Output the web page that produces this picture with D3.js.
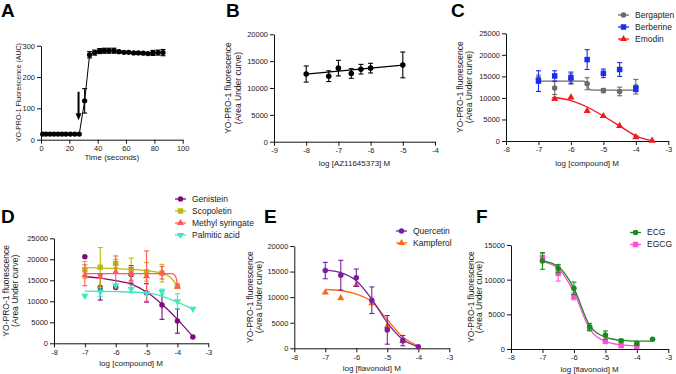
<!DOCTYPE html>
<html>
<head>
<meta charset="utf-8">
<script src="https://cdn.jsdelivr.net/npm/d3@7"></script>
<style>
body { margin: 0; background: #fff; }
svg { font-family: "Liberation Sans", Arial, sans-serif; }
.axis path, .axis line { stroke: #111; stroke-width: 1; }
.axis text { font-family: "Liberation Sans", Arial, sans-serif; font-size: 7.5px; fill: #222; }
</style>
</head>
<body>
<svg id="fig" width="676" height="374"></svg>
<script>
// ---- A: time course ----
var timeA = [1.2,3.5,6.4,9.2,12,14.8,17.6,20.7,23.8,27,30.8,34.3,37.9,41.4,44.7,48,51.5,55,58.6,61.9,65.4,68.7,72.2,75.5,79,82.6,86.1];
var aucA = [18,18,18,18,18,18,18,18,18,18,124,271,278,283,284,284,284,281,279,279,277,277,276,275,277,278,278];
var aucAErr = [0,0,0,0,0,0,0,0,0,0,39,10,8,8,8,8,8,4,3,3,3,3,3,3,8,8,10];
var arrowTime = 26.5, arrowTop = 153, arrowTip = 62;

// ---- B: AZ11645373 ----
var logAZ = [-8,-7.3,-7,-6.6,-6.3,-6,-5];
var aucB = [12600,12200,13700,12700,13500,13700,14300];
var aucBErr = [1500,1000,1450,900,900,900,2400];
var fitBX = [-8,-5];
var fitBY = [12600,14250];

// ---- C ----
var logC = [-7,-6.5,-6,-5.5,-5,-4.5,-4];
var bergapten = [14500,12300,14400,13300,11700,11500,12600];
var bergaptenErr = [800,1500,1200,1400,500,1000,1700];
var bergaptenFitX = [-7,-6,-5.6,-5.5,-5.45,-5.4,-5,-4];
var bergaptenFitY = [13900,13900,13880,13200,12200,11850,11800,11800];
var berberine = [13900,15100,14700,18900,15700,16600,12100];
var berberineErr = [2400,1200,1300,2300,1000,1600,650];
var logEmodin = [-6.5,-6,-5.5,-5,-4.5,-4,-3.5];
var emodin = [9800,10100,7000,5800,3500,900,100];
var emodinErr = [300,0,0,0,0,300,0];
var emodinFitX = [-6.5,-6,-5.5,-5,-4.5,-4,-3.5];
var emodinFitY = [10100,9400,7900,5800,3500,1200,50];

// ---- D ----
var logD = [-7,-6.5,-6,-5.5,-5,-4.5,-4,-3.5];
var logD7 = [-7,-6.5,-6,-5.5,-5,-4.5,-4];
var genistein = [20600,13300,13300,16400,12000,9100,5300,1500];
var genisteinErr = [0,3000,0,2100,2200,3400,2900,0];
var genisteinFitX = [-7,-6.5,-6,-5.5,-5,-4.5,-4,-3.5];
var genisteinFitY = [15900,15500,14900,14100,12200,9300,5700,1600];
var scopoletin = [17500,18100,19000,17500,17000,16700,13600];
var scopoletinErr = [2000,4700,1000,2800,2200,2100,500];
var scopoletinFitX = [-7,-6,-5,-4.5,-4.2,-4];
var scopoletinFitY = [18000,17800,17300,16700,15500,13600];
var methyl = [16200,15800,17000,16500,16000,16800,13500];
var methylErr = [2500,0,3800,1500,6000,1500,0];
var methylFitX = [-7,-5,-4.2,-4.1,-4.03,-4];
var methylFitY = [16600,16600,16600,16300,15200,13600];
var palmitic = [11300,12200,13800,12900,11900,12300,10000,8200];
var palmiticErr = [0,1000,0,900,0,600,1800,0];
var palmiticFitX = [-7,-6,-5,-4.5,-4,-3.5];
var palmiticFitY = [12400,12300,12000,11200,9800,8100];

// ---- E ----
var logE = [-7,-6.5,-6,-5.5,-5,-4.5,-4];
var quercetin = [15200,14300,13800,9400,3600,1500,300];
var quercetinErr = [1600,2900,1700,2600,2800,1000,0];
var quercetinFitY = [15300,14800,13200,9600,5000,1700,300];
var kampferol = [10900,9800,12400,8800,4300,1400,150];
var kampferolFitY = [11500,11300,10600,9100,5600,2200,450];

// ---- F ----
var logF = [-7,-6.5,-6,-5.5,-5,-4.5,-4,-3.5];
var ecg = [12700,11600,8750,3200,2000,1200,800,1400];
var ecgErr = [1200,600,900,500,600,200,300,0];
var ecgFitY = [12700,11900,8750,3400,1700,1250,1150,1150];
var logF7 = [-7,-6.5,-6,-5.5,-5,-4.5,-4];
var egcg = [13200,10900,7600,2900,1100,500,400];
var egcgErr = [600,1100,500,0,0,0,0];
var egcgFitY = [12600,11600,8200,2900,1100,600,450];

// ---- tick labels ----
var ticksAX = [0,20,40,60,80,100];
var ticksAY = [0,100,200,300];
var ticksBX = [-9,-8,-7,-6,-5,-4];
var ticksLogX = [-8,-7,-6,-5,-4,-3];
var ticks20k = [0,5000,10000,15000,20000];
var ticks25k = [0,5000,10000,15000,20000,25000];
var ticks15k = [0,5000,10000,15000];

var yLab2 = ['YO-PRO-1 fluorescence', '(Area Under curve)'];

var panels = [
  {letter: 'A', lx: 1, ly: 17, left: 41, right: 182.7, top: 45.7, bottom: 139.7,
   xDomain: [0,100], yDomain: [0,300], xTicks: ticksAX, yTicks: ticksAY,
   xLabel: 'Time (seconds)', xLabelY: 160, yLabel: ['YO-PRO-1 Fluorescence (AUC)'], yLabelX: [18], yLabelSize: 7,
   series: [{x: timeA, y: aucA, err: aucAErr, color: '#000', symbol: d3.symbolCircle, size: 22, joined: true}]},
  {letter: 'B', lx: 226, ly: 17, left: 274, right: 435, top: 34.3, bottom: 141.7,
   xDomain: [-9,-4], yDomain: [0,20000], xTicks: ticksBX, yTicks: ticks20k,
   xLabel: 'log [AZ11645373] M', xLabelY: 166, yLabel: yLab2, yLabelX: [228, 237.5], yLabelSize: 8.5,
   series: [{x: logAZ, y: aucB, err: aucBErr, fitX: fitBX, fitY: fitBY, color: '#000', symbol: d3.symbolCircle, size: 24}]},
  {letter: 'C', lx: 451, ly: 17, left: 506, right: 668.3, top: 33.3, bottom: 141,
   xDomain: [-8,-3], yDomain: [0,25000], xTicks: ticksLogX, yTicks: ticks25k,
   xLabel: 'log [compound] M', xLabelY: 166, yLabel: yLab2, yLabelX: [460, 468.5], yLabelSize: 8.5,
   legend: {x: 618, y: 15, dy: 12},
   series: [
     {name: 'Bergapten', x: logC, y: bergapten, err: bergaptenErr, fitX: bergaptenFitX, fitY: bergaptenFitY, color: '#6b6b6b', symbol: d3.symbolCircle, size: 24},
     {name: 'Berberine', x: logC, y: berberine, err: berberineErr, color: '#1a2cf0', symbol: d3.symbolSquare, size: 30},
     {name: 'Emodin', x: logEmodin, y: emodin, err: emodinErr, fitX: emodinFitX, fitY: emodinFitY, color: '#f01818', symbol: d3.symbolTriangle, size: 22}
   ]},
  {letter: 'D', lx: 1, ly: 223, left: 54, right: 208.3, top: 238.3, bottom: 343.3,
   xDomain: [-8,-3], yDomain: [0,25000], xTicks: ticksLogX, yTicks: ticks25k,
   xLabel: 'log [compound] M', xLabelY: 366, yLabel: yLab2, yLabelX: [6, 15], yLabelSize: 8.5,
   legend: {x: 175, y: 199, dy: 12},
   series: [
     {name: 'Genistein', x: logD, y: genistein, err: genisteinErr, fitX: genisteinFitX, fitY: genisteinFitY, color: '#7d0a82', symbol: d3.symbolCircle, size: 24},
     {name: 'Scopoletin', x: logD7, y: scopoletin, err: scopoletinErr, fitX: scopoletinFitX, fitY: scopoletinFitY, color: '#bcbc08', symbol: d3.symbolSquare, size: 30},
     {name: 'Methyl syringate', x: logD7, y: methyl, err: methylErr, fitX: methylFitX, fitY: methylFitY, color: '#ff5a5a', symbol: d3.symbolTriangle, size: 22},
     {name: 'Palmitic acid', x: logD, y: palmitic, err: palmiticErr, fitX: palmiticFitX, fitY: palmiticFitY, color: '#3ee8bc', symbol: d3.symbolTriangle, size: 22, flip: true}
   ]},
  {letter: 'E', lx: 264, ly: 223, left: 294.3, right: 449.3, top: 246, bottom: 348.3,
   xDomain: [-8,-3], yDomain: [0,20000], xTicks: ticksLogX, yTicks: ticks20k,
   xLabel: 'log [flavonoid] M', xLabelY: 371, yLabel: yLab2, yLabelX: [250, 258.5], yLabelSize: 8.5,
   legend: {x: 396, y: 231, dy: 12},
   series: [
     {name: 'Kampferol', x: logE, y: kampferol, fitX: logE, fitY: kampferolFitY, color: '#ff6a10', symbol: d3.symbolTriangle, size: 22},
     {name: 'Quercetin', x: logE, y: quercetin, err: quercetinErr, fitX: logE, fitY: quercetinFitY, color: '#7a1ea0', symbol: d3.symbolCircle, size: 24}
   ], legendOrder: [1, 0]},
  {letter: 'F', lx: 476, ly: 223, left: 511, right: 668.3, top: 245, bottom: 349,
   xDomain: [-8,-3], yDomain: [0,15000], xTicks: ticksLogX, yTicks: ticks15k,
   xLabel: 'log [flavonoid] M', xLabelY: 372, yLabel: yLab2, yLabelX: [470.5, 478.5], yLabelSize: 8.5,
   legend: {x: 630, y: 232.5, dy: 12},
   series: [
     {name: 'EGCG', x: logF7, y: egcg, err: egcgErr, fitX: logF7, fitY: egcgFitY, color: '#ff4fd6', symbol: d3.symbolSquare, size: 30},
     {name: 'ECG', x: logF, y: ecg, err: ecgErr, fitX: logF, fitY: ecgFitY, color: '#1b8a1b', symbol: d3.symbolCircle, size: 24}
   ], legendOrder: [1, 0]}
];

var svg = d3.select('#fig');

panels.forEach(function(p) {
  var x = d3.scaleLinear().domain(p.xDomain).range([p.left, p.right]);
  var y = d3.scaleLinear().domain(p.yDomain).range([p.bottom, p.top]);
  var g = svg.append('g');

  g.append('g').attr('class', 'axis')
    .attr('transform', 'translate(0,' + p.bottom + ')')
    .call(d3.axisBottom(x).tickValues(p.xTicks).tickFormat(d => String(d)).tickSize(4).tickSizeOuter(0).tickPadding(2));
  g.append('g').attr('class', 'axis')
    .attr('transform', 'translate(' + p.left + ',0)')
    .call(d3.axisLeft(y).tickValues(p.yTicks).tickFormat(d => String(d)).tickSize(4).tickSizeOuter(0).tickPadding(2));

  // axis titles
  g.append('text')
    .attr('x', (p.left + p.right) / 2).attr('y', p.xLabelY)
    .attr('text-anchor', 'middle').attr('font-size', 8).attr('fill', '#222')
    .text(p.xLabel);
  p.yLabel.forEach(function(t, i) {
    g.append('text')
      .attr('transform', 'translate(' + (p.yLabelX[i] + 3) + ',' + (p.top + p.bottom) / 2 + ') rotate(-90)')
      .attr('text-anchor', 'middle').attr('font-size', p.yLabelSize).attr('fill', '#222')
      .text(t);
  });

  // panel letter
  g.append('text').attr('x', p.lx).attr('y', p.ly)
    .attr('font-size', 19).attr('font-weight', 'bold').attr('fill', '#000')
    .text(p.letter);

  p.series.forEach(function(s) {
    var pts = s.x.map(function(v, i) { return {x: v, y: s.y[i], e: s.err ? s.err[i] : 0}; });

    if (s.joined) {
      g.append('path').datum(pts)
        .attr('d', d3.line().x(d => x(d.x)).y(d => y(d.y)))
        .attr('fill', 'none').attr('stroke', s.color).attr('stroke-width', 1);
    }
    if (s.fitX) {
      var fit = s.fitX.map(function(v, i) { return [v, s.fitY[i]]; });
      g.append('path').datum(fit)
        .attr('d', d3.line().x(d => x(d[0])).y(d => y(d[1])).curve(d3.curveMonotoneX))
        .attr('fill', 'none').attr('stroke', s.color).attr('stroke-width', 1.3);
    }

    var eb = g.append('g').attr('stroke', s.color).attr('stroke-width', 1.1);
    pts.filter(d => d.e > 0).forEach(function(d) {
      var cx = x(d.x), hi = y(d.y + d.e), lo = y(d.y - d.e);
      eb.append('line').attr('x1', cx).attr('x2', cx).attr('y1', hi).attr('y2', lo);
      eb.append('line').attr('x1', cx - 2.5).attr('x2', cx + 2.5).attr('y1', hi).attr('y2', hi);
      eb.append('line').attr('x1', cx - 2.5).attr('x2', cx + 2.5).attr('y1', lo).attr('y2', lo);
    });

    g.append('g').selectAll('path')
      .data(pts)
      .enter()
      .append('path')
      .attr('d', d3.symbol().type(s.symbol).size(s.size))
      .attr('transform', d => 'translate(' + x(d.x) + ',' + y(d.y) + ')' + (s.flip ? ' rotate(180)' : ''))
      .attr('fill', s.color);
  });

  if (p.legend) {
    var order = p.legendOrder || p.series.map((s, i) => i);
    order.forEach(function(k, i) {
      var s = p.series[k];
      var ly = p.legend.y + i * p.legend.dy;
      g.append('line')
        .attr('x1', p.legend.x).attr('x2', p.legend.x + 11)
        .attr('y1', ly).attr('y2', ly)
        .attr('stroke', s.color).attr('stroke-width', 1.3);
      g.append('path')
        .attr('d', d3.symbol().type(s.symbol).size(s.size))
        .attr('transform', 'translate(' + (p.legend.x + 5.5) + ',' + ly + ')' + (s.flip ? ' rotate(180)' : ''))
        .attr('fill', s.color);
      g.append('text')
        .attr('x', p.legend.x + 17).attr('y', ly).attr('dy', '0.35em')
        .attr('font-size', 8.5).attr('fill', '#222')
        .text(s.name);
    });
  }

  // agonist addition arrow in panel A
  if (p.letter === 'A') {
    var ax = x(arrowTime);
    g.append('line')
      .attr('x1', ax).attr('x2', ax)
      .attr('y1', y(arrowTop)).attr('y2', y(arrowTip) - 6)
      .attr('stroke', '#000').attr('stroke-width', 2);
    g.append('path')
      .attr('d', 'M' + (ax - 3) + ',' + (y(arrowTip) - 7) + 'L' + (ax + 3) + ',' + (y(arrowTip) - 7) + 'L' + ax + ',' + y(arrowTip) + 'Z')
      .attr('fill', '#000');
  }
});
</script>
</body>
</html>
